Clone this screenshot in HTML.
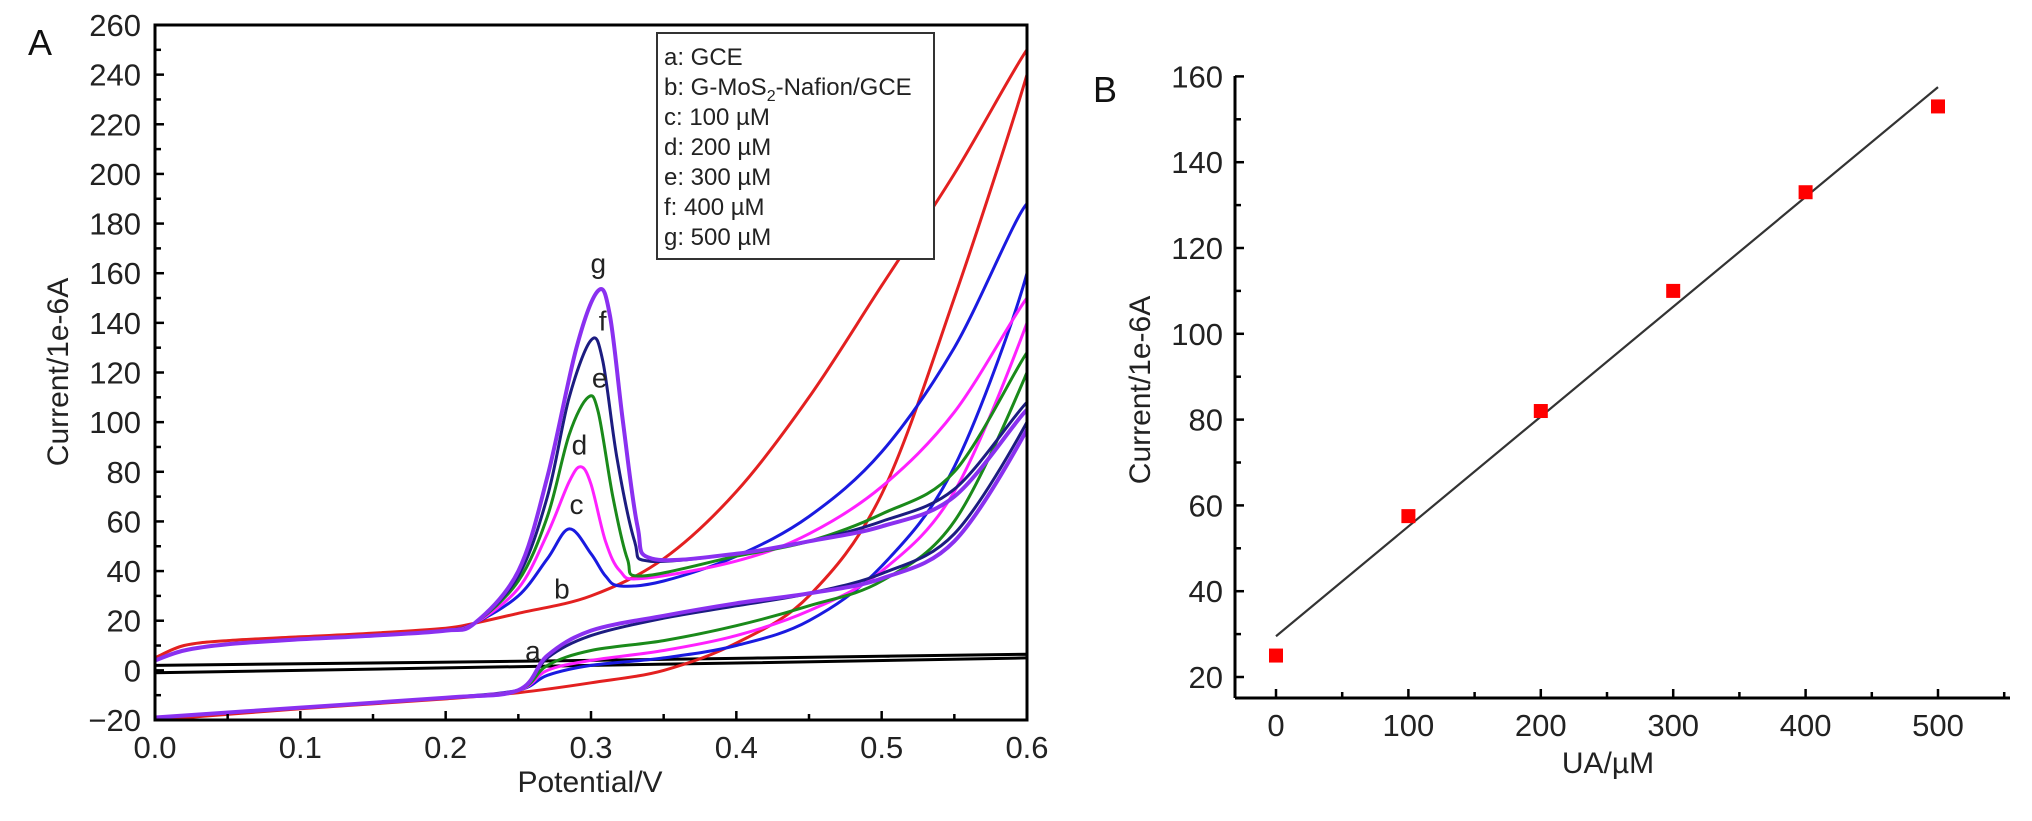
<!DOCTYPE html>
<html><head><meta charset="utf-8">
<style>
html,body{margin:0;padding:0;background:#fff;}
svg{display:block;font-family:"Liberation Sans",Arial,sans-serif;}
</style></head>
<body>
<svg id="fig" width="2032" height="821" viewBox="0 0 2032 821" xmlns="http://www.w3.org/2000/svg">
<g id="panelA"></g>
<g id="panelB"></g>
</svg>
<script>
// ---------- Panel A data (potential V, current 1e-6A) ----------
const aUpper = [[0,2],[0.3,4],[0.6,6.5]];
const aLower = [[0.6,5],[0.3,2],[0,-1]];
const bUpper = [[0,5],[0.02,10],[0.05,12],[0.1,13.5],[0.15,15],[0.2,17],[0.22,19],[0.25,23],[0.3,30],[0.35,45],[0.4,72],[0.45,110],[0.5,155],[0.55,200],[0.6,250]];
const bLower = [[0.6,240],[0.55,150],[0.5,71],[0.45,30],[0.4,11],[0.35,0],[0.3,-5],[0.25,-9],[0.2,-11.5],[0.1,-15.5],[0,-20]];
const cUpper = [[0,4],[0.02,8],[0.05,10.5],[0.1,12.5],[0.15,14],[0.2,16],[0.22,19],[0.25,30],[0.27,45],[0.285,57],[0.3,47],[0.31,38],[0.32,34],[0.35,36],[0.4,46],[0.45,62],[0.5,88],[0.55,130],[0.6,188]];
const cLower = [[0.6,160],[0.55,82],[0.5,42],[0.45,20],[0.4,10],[0.35,5],[0.3,2],[0.27,-2],[0.25,-8],[0.2,-11],[0.1,-15],[0,-19]];
const dUpper = [[0,4],[0.02,8],[0.05,10.5],[0.1,12.5],[0.15,14],[0.2,16],[0.22,19],[0.25,33],[0.27,55],[0.285,76],[0.293,82],[0.3,75],[0.31,52],[0.32,40],[0.335,37],[0.4,44],[0.45,55],[0.5,74],[0.55,104],[0.6,150]];
const dLower = [[0.6,140],[0.55,72],[0.5,40],[0.45,24],[0.4,14],[0.35,8],[0.3,4],[0.27,0],[0.25,-8],[0.2,-11],[0.1,-15],[0,-19]];
const eUpper = [[0,4],[0.02,8],[0.05,10.5],[0.1,12.5],[0.15,14],[0.2,16],[0.22,19],[0.25,36],[0.27,62],[0.285,95],[0.298,110],[0.305,104],[0.315,70],[0.325,45],[0.335,38],[0.4,46],[0.45,52],[0.5,63],[0.55,80],[0.6,128]];
const eLower = [[0.6,120],[0.55,60],[0.5,36],[0.45,26],[0.4,18],[0.35,12],[0.3,8],[0.27,2],[0.25,-8],[0.2,-11],[0.1,-15],[0,-19]];
const fUpper = [[0,4],[0.02,8],[0.05,10.5],[0.1,12.5],[0.15,14],[0.2,16],[0.22,19],[0.25,38],[0.27,70],[0.285,110],[0.3,133],[0.308,125],[0.318,85],[0.33,52],[0.34,44],[0.4,47],[0.45,52],[0.5,60],[0.55,73],[0.6,108]];
const fLower = [[0.6,100],[0.55,55],[0.5,39],[0.45,31],[0.4,26],[0.35,21],[0.3,14],[0.27,5],[0.25,-8],[0.2,-11],[0.1,-15],[0,-19]];
const gUpper = [[0,4],[0.02,8],[0.05,10.5],[0.1,12.5],[0.15,14],[0.2,16],[0.22,19],[0.25,40],[0.27,78],[0.29,130],[0.305,153],[0.313,143],[0.322,100],[0.332,58],[0.342,45],[0.4,47],[0.45,52],[0.5,58],[0.55,70],[0.6,105]];
const gLower = [[0.6,97],[0.55,52],[0.5,37],[0.45,31],[0.4,27],[0.35,22],[0.3,16],[0.27,6],[0.25,-8],[0.2,-11],[0.1,-15],[0,-19]];
const seriesNames = ["a","b","c","d","e","f","g"];
const seriesColors = ["#000000","#e32020","#1a1ae0","#ff20ff","#1a8a1a","#1c1c80","#8a30f0"];
const seriesUpper = [aUpper,bUpper,cUpper,dUpper,eUpper,fUpper,gUpper];
const seriesLower = [aLower,bLower,cLower,dLower,eLower,fLower,gLower];
const legendLabels = ["a: GCE","b: G-MoS2-Nafion/GCE","c: 100 \u00b5M","d: 200 \u00b5M","e: 300 \u00b5M"," f: 400 \u00b5M","g: 500 \u00b5M"];
const aXTicks = [0,0.1,0.2,0.3,0.4,0.5,0.6];
const aXTickLabels = ["0.0","0.1","0.2","0.3","0.4","0.5","0.6"];
const aYTicks = [-20,0,20,40,60,80,100,120,140,160,180,200,220,240,260];
const curveLabels = [["a",0.26,4],["b",0.28,29],["c",0.29,63],["d",0.292,87],["e",0.306,114],["f",0.308,137],["g",0.305,160]];

// ---------- Panel B data ----------
const uaConc = [0,100,200,300,400,500];
const uaCurrent = [25,57.5,82,110,133,153];
const fitStart = [0,29.5];
const fitEnd = [500,157.5];
const bXTicks = [0,100,200,300,400,500];
const bYTicks = [20,40,60,80,100,120,140,160];

const NS="http://www.w3.org/2000/svg";
function mk(tag,attrs,parent){const e=document.createElementNS(NS,tag);for(const k in attrs)e.setAttribute(k,attrs[k]);parent.appendChild(e);return e;}

const A={x0:155,x1:1027,y0:720,y1:25,vx0:0,vx1:0.6,vy0:-20,vy1:260};
const ax=v=>A.x0+(v-A.vx0)/(A.vx1-A.vx0)*(A.x1-A.x0);
const ay=v=>A.y0-(v-A.vy0)/(A.vy1-A.vy0)*(A.y0-A.y1);
const gA=document.getElementById('panelA');

function smoothPath(pts,fx,fy){
  const p=pts.map(q=>[fx(q[0]),fy(q[1])]);
  let d="M"+p[0][0].toFixed(1)+","+p[0][1].toFixed(1);
  for(let i=0;i<p.length-1;i++){
    const p0=p[Math.max(0,i-1)],p1=p[i],p2=p[i+1],p3=p[Math.min(p.length-1,i+2)];
    const c1=[p1[0]+(p2[0]-p0[0])/6,p1[1]+(p2[1]-p0[1])/6];
    const c2=[p2[0]-(p3[0]-p1[0])/6,p2[1]-(p3[1]-p1[1])/6];
    d+=" C"+c1.map(v=>v.toFixed(1)).join(",")+" "+c2.map(v=>v.toFixed(1)).join(",")+" "+p2[0].toFixed(1)+","+p2[1].toFixed(1);
  }
  return d;
}

const clipA=mk('clipPath',{id:'clipA'},gA);
mk('rect',{x:A.x0,y:A.y1,width:A.x1-A.x0,height:A.y0-A.y1},clipA);
const curvesG=mk('g',{'clip-path':'url(#clipA)'},gA);


for(let s=0;s<seriesNames.length;s++){
  const pts=seriesUpper[s].concat(seriesLower[s]);
  const path=mk('path',{d:smoothPath(pts,ax,ay),fill:'none',stroke:seriesColors[s],'stroke-width':s===6?4:3,'stroke-linejoin':'round'},curvesG);
  
  
}
const frameA=mk('rect',{x:A.x0,y:A.y1,width:A.x1-A.x0,height:A.y0-A.y1,fill:'none',stroke:'#000','stroke-width':3},gA);


for(let v=-20;v<=260;v+=10){
  const major=(v%20===0);
  const t=mk('line',{x1:A.x0,x2:A.x0+(major?9:6),y1:ay(v),y2:ay(v),stroke:'#000','stroke-width':2.5},gA);
  
  
}
aYTicks.forEach(v=>{
  const t=mk('text',{x:A.x0-14,y:ay(v)+11,'text-anchor':'end','font-size':31,fill:'#222'},gA);
  t.textContent=(v<0?"\u2212":"")+Math.abs(v);
  
  
});
for(let i=0;i<=12;i++){
  const v=i*0.05;const major=(i%2===0);
  const t=mk('line',{x1:ax(v),x2:ax(v),y1:A.y0,y2:A.y0-(major?9:6),stroke:'#000','stroke-width':2.5},gA);
  
  
}
aXTicks.forEach((v,i)=>{
  const t=mk('text',{x:ax(v),y:758,'text-anchor':'middle','font-size':31,fill:'#222'},gA);
  t.textContent=aXTickLabels[i];
  
  
});
curveLabels.forEach(c=>{
  const t=mk('text',{x:ax(c[1]),y:ay(c[2]),'text-anchor':'middle','font-size':28,fill:'#222'},gA);
  t.textContent=c[0];
  
  
});
const leg=mk('g',{},gA);


mk('rect',{x:657,y:33,width:277,height:226,fill:'#fff',stroke:'#333','stroke-width':2},leg);
legendLabels.forEach((l,i)=>{
  const t=mk('text',{x:664,y:65+i*30,'font-size':24,fill:'#222'},leg);
  if(i===1){
    t.appendChild(document.createTextNode("b: G-MoS"));
    const sub=mk('tspan',{'font-size':16,dy:6},t);sub.textContent="2";
    const rest=mk('tspan',{dy:-6},t);rest.textContent="-Nafion/GCE";
  } else t.textContent=l;
  
  
});
let tt=mk('text',{x:28,y:55,'font-size':36,fill:'#111'},gA);tt.textContent="A";

tt=mk('text',{x:0,y:0,'font-size':30,fill:'#222','text-anchor':'middle',transform:'translate(68,372) rotate(-90)'},gA);tt.textContent="Current/1e-6A";

tt=mk('text',{x:590,y:792,'font-size':30,fill:'#222','text-anchor':'middle'},gA);tt.textContent="Potential/V";


// Panel B
const B={x0:1235,x1:2010,y0:698,y1:76};
const bx=v=>1276+v*1.324;
const by=v=>677-(v-20)/20*85.8;
const gB=document.getElementById('panelB');
let ln=mk('line',{x1:B.x0,x2:B.x0,y1:B.y1,y2:B.y0,stroke:'#000','stroke-width':3},gB);

ln=mk('line',{x1:B.x0,x2:B.x1,y1:B.y0,y2:B.y0,stroke:'#000','stroke-width':3},gB);

for(let v=20;v<=160;v+=10){
  const major=(v%20===0);
  const t=mk('line',{x1:B.x0,x2:B.x0+(major?9:6),y1:by(v),y2:by(v),stroke:'#000','stroke-width':2.5},gB);
  
}
bYTicks.forEach(v=>{
  const t=mk('text',{x:B.x0-12,y:by(v)+11,'text-anchor':'end','font-size':31,fill:'#222'},gB);
  t.textContent=v;
  
});
for(let v=0;v<=550;v+=50){
  const major=(v%100===0);
  const t=mk('line',{x1:bx(v),x2:bx(v),y1:B.y0,y2:B.y0-(major?9:6),stroke:'#000','stroke-width':2.5},gB);
  
}
bXTicks.forEach(v=>{
  const t=mk('text',{x:bx(v),y:736,'text-anchor':'middle','font-size':31,fill:'#222'},gB);
  t.textContent=v;
  
});
ln=mk('line',{x1:bx(fitStart[0]),y1:by(fitStart[1]),x2:bx(fitEnd[0]),y2:by(fitEnd[1]),stroke:'#333','stroke-width':2.2},gB);

uaConc.forEach((c,i)=>{
  const r=mk('rect',{x:bx(c)-7,y:by(uaCurrent[i])-7,width:14,height:14,fill:'#f00'},gB);
  
  
});
tt=mk('text',{x:1093,y:102,'font-size':36,fill:'#111'},gB);tt.textContent="B";

tt=mk('text',{x:0,y:0,'font-size':30,fill:'#222','text-anchor':'middle',transform:'translate(1150,390) rotate(-90)'},gB);tt.textContent="Current/1e-6A";

tt=mk('text',{x:1608,y:773,'font-size':30,fill:'#222','text-anchor':'middle'},gB);tt.textContent="UA/\u00b5M";

</script>
</body></html>
